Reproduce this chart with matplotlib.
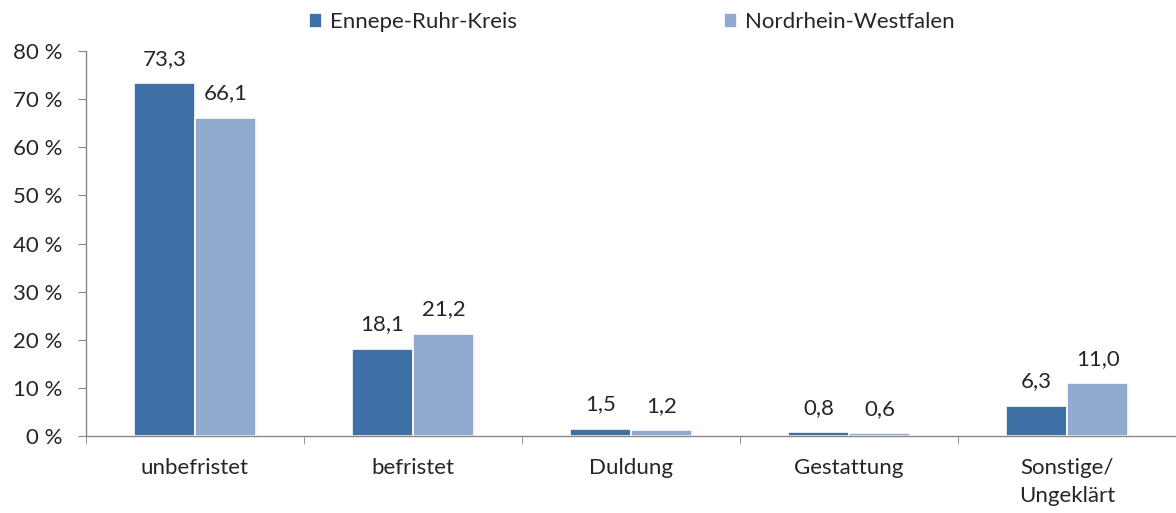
import numpy as np
import matplotlib.pyplot as plt
from matplotlib.ticker import FixedLocator

# Daten
kategorien = ['unbefristet', 'befristet', 'Duldung', 'Gestattung', 'Sonstige/\nUngeklärt']
serien = ['Ennepe-Ruhr-Kreis', 'Nordrhein-Westfalen']
enkreis = [73.3, 18.1, 1.5, 0.8, 6.3]
nrw = [66.1, 21.2, 1.2, 0.6, 11.0]
y_ticks = [0, 10, 20, 30, 40, 50, 60, 70, 80]

farben = ['#3E70A5', '#91A9CF']
achse_farbe = '#868686'
text_farbe = '#262626'
fs = 16

plt.rcParams['font.family'] = ['Lato', 'DejaVu Sans']

fig = plt.figure(figsize=(11.76, 5.13), dpi=100)
ax = fig.add_axes([0.0731, 0.150, 0.927, 0.7506])

x = np.arange(len(kategorien))
w = 0.28
for i, (werte, farbe, name) in enumerate(zip([enkreis, nrw], farben, serien)):
    pos = x + (i - 0.5) * w
    # leichter Schatten
    ax.bar(pos + 0.006, werte, w, bottom=-0.25, color='#dcdcdc', zorder=1)
    ax.bar(pos, werte, w, color=farbe, edgecolor='white', linewidth=1.2,
           label=name, zorder=2)
    for p, v in zip(pos, werte):
        ax.text(p, v + 3.0, f'{v:.1f}'.replace('.', ','), ha='center', va='bottom',
                fontsize=fs, color=text_farbe)

ax.set_xlim(-0.5, len(kategorien) - 0.5)
ax.set_ylim(0, 80)
ax.set_yticks(y_ticks)
ax.set_yticklabels([f'{t} %' for t in y_ticks], fontsize=fs, color=text_farbe)
ax.set_xticks(x)
ax.set_xticklabels(kategorien, fontsize=fs, color=text_farbe, linespacing=1.5)
ax.tick_params(axis='x', which='major', length=0, pad=16)
ax.xaxis.set_minor_locator(FixedLocator(np.arange(-0.5, len(kategorien), 1.0)))
ax.tick_params(axis='x', which='minor', length=6, color=achse_farbe, direction='out')
ax.tick_params(axis='y', length=6, color=achse_farbe, direction='out', pad=11)

for s in ['top', 'right']:
    ax.spines[s].set_visible(False)
for s in ['left', 'bottom']:
    ax.spines[s].set_color(achse_farbe)
    ax.spines[s].set_linewidth(1.0)

fig.legend(loc='upper center', bbox_to_anchor=(0.537, 1.015), ncol=2, frameon=False,
           fontsize=fs, handlelength=0.6, handleheight=0.6, handletextpad=0.35,
           columnspacing=9.3, labelcolor=text_farbe)

fig.savefig('out.png', dpi=100)
